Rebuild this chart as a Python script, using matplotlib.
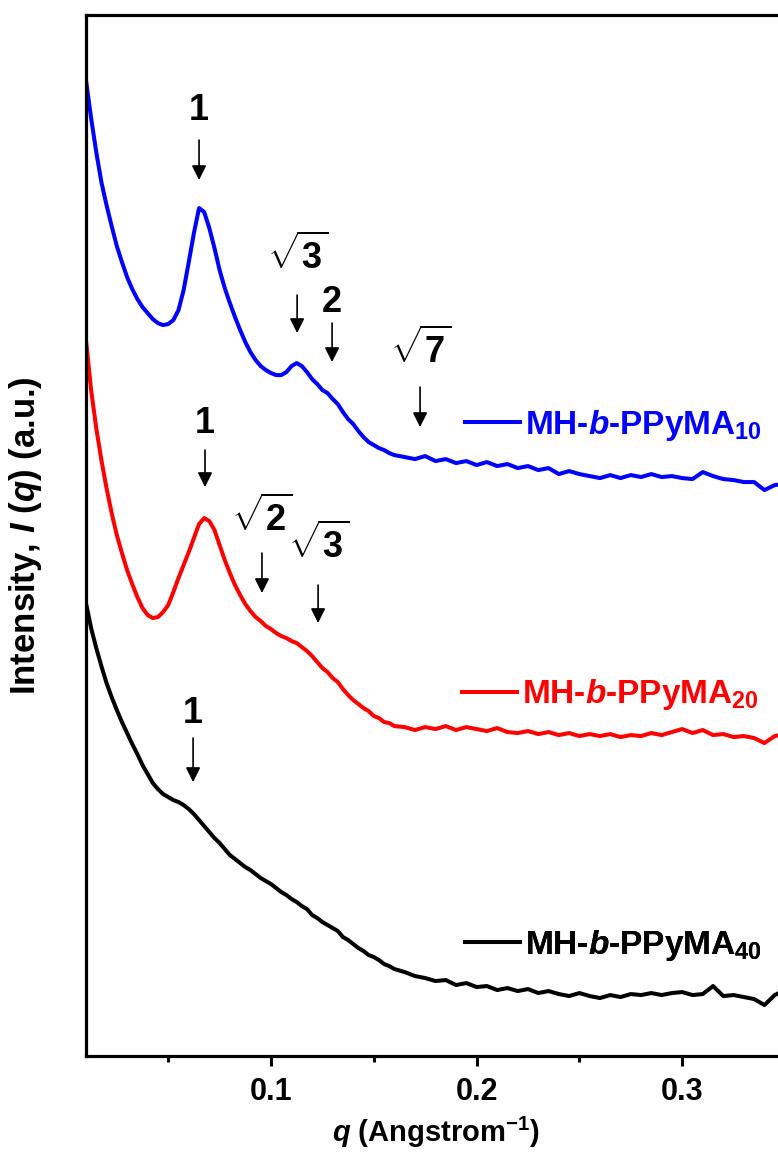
import numpy as np
import matplotlib
matplotlib.use('Agg')
import matplotlib.pyplot as plt
from matplotlib.lines import Line2D

plt.rcParams['font.family'] = ['Liberation Sans', 'DejaVu Sans']
plt.rcParams['font.weight'] = 'bold'
plt.rcParams['mathtext.fontset'] = 'custom'
plt.rcParams['mathtext.rm'] = 'Liberation Sans:bold'
plt.rcParams['mathtext.it'] = 'Liberation Sans:bold:italic'
plt.rcParams['mathtext.bf'] = 'Liberation Sans:bold'

# q grid (1/Angstrom)
q = [0.0100, 0.0125, 0.0150, 0.0175, 0.0200, 0.0225, 0.0250, 0.0275, 0.0300, 0.0325,
     0.0350, 0.0375, 0.0400, 0.0425, 0.0450, 0.0475, 0.0500, 0.0525, 0.0550, 0.0575,
     0.0600, 0.0625, 0.0650, 0.0675, 0.0700, 0.0725, 0.0750, 0.0775, 0.0800, 0.0825,
     0.0850, 0.0875, 0.0900, 0.0925, 0.0950, 0.0975, 0.1000, 0.1025, 0.1050, 0.1075,
     0.1100, 0.1125, 0.1150, 0.1175, 0.1200, 0.1225, 0.1250, 0.1275, 0.1300, 0.1325,
     0.1350, 0.1375, 0.1400, 0.1425, 0.1450, 0.1475, 0.1500, 0.1525, 0.1550, 0.1575,
     0.1600, 0.165, 0.170, 0.175, 0.180, 0.185, 0.190, 0.195, 0.200, 0.205,
     0.210, 0.215, 0.220, 0.225, 0.230, 0.235, 0.240, 0.245, 0.250, 0.255,
     0.260, 0.265, 0.270, 0.275, 0.280, 0.285, 0.290, 0.295, 0.300, 0.305,
     0.310, 0.315, 0.320, 0.325, 0.330, 0.335, 0.340, 0.345, 0.350]

# shifted intensities (a.u.)
I_10 = [976, 938, 904, 874, 851, 830, 810, 794, 779, 767,
        757, 749, 743, 737, 733, 731, 732, 736, 746, 766,
        794, 823, 848, 844, 828, 808, 786, 768, 753, 739,
        726, 714, 704, 696, 690, 686, 683, 681, 681, 684,
        690, 693, 690, 684, 677, 672, 666, 663, 657, 652,
        644, 637, 632, 625, 619, 614, 611, 608, 606, 603,
        601, 599, 597, 600, 595, 597, 593, 595, 591, 594,
        590, 592, 588, 590, 586, 588, 582, 585, 582, 580,
        578, 581, 578, 581, 579, 582, 579, 580, 578, 577,
        584, 580, 577, 576, 574, 574, 566, 571, 572]

I_20 = [716, 666, 628, 596, 568, 543, 521, 503, 486, 472,
        459, 448, 441, 438, 439, 444, 451, 464, 478, 491,
        504, 518, 532, 538, 535, 526, 511, 496, 483, 471,
        461, 452, 445, 439, 435, 430, 427, 423, 420, 418,
        415, 413, 409, 405, 400, 394, 388, 384, 378, 374,
        367, 361, 356, 352, 348, 345, 340, 338, 334, 333,
        330, 329, 326, 329, 327, 330, 326, 329, 327, 325,
        328, 324, 323, 325, 322, 324, 321, 323, 320, 322,
        320, 322, 319, 321, 320, 323, 321, 324, 327, 323,
        326, 321, 322, 319, 320, 318, 313, 320, 322]

I_40 = [453, 428, 408, 390, 373, 359, 346, 334, 323, 312,
        302, 291, 282, 273, 267, 262, 259, 256, 254, 251,
        247, 242, 236, 230, 224, 218, 213, 207, 201, 197,
        193, 189, 186, 182, 178, 175, 172, 168, 164, 161,
        157, 154, 150, 147, 141, 138, 134, 131, 128, 125,
        119, 116, 112, 108, 105, 101, 99, 96, 92, 90,
        87, 84, 80, 78, 75, 76, 71, 73, 69, 70,
        66, 68, 65, 67, 63, 65, 62, 60, 63, 60,
        58, 61, 59, 62, 61, 63, 61, 63, 64, 61,
        62, 70, 60, 61, 59, 57, 51, 61, 66]

series = [(I_10, 'blue', r'MH-$\it{b}$-PPyMA$_{10}$'),
          (I_20, 'red', r'MH-$\it{b}$-PPyMA$_{20}$'),
          (I_40, 'black', r'MH-$\it{b}$-PPyMA$_{40}$')]

# peak markers: label, q position, label height, arrow top, arrow bottom
peaks = [('1', 0.0650, 946, 916, 876),
         (r'$\sqrt{3}$', 0.1127, 800, 761, 723),
         ('2', 0.1297, 754, 733, 694),
         (r'$\sqrt{7}$', 0.1725, 706, 669, 629),
         ('1', 0.0679, 633, 606, 569),
         (r'$\sqrt{2}$', 0.0956, 538, 503, 463),
         (r'$\sqrt{3}$', 0.1229, 511, 471, 433),
         ('1', 0.0621, 343, 318, 274)]

fig = plt.figure(figsize=(7.78, 11.61), dpi=100)
ax = fig.add_axes([0.1105, 0.0904, 0.8985, 0.8966])

for I, c, lab in series:
    ax.plot(q, I, color=c, lw=2.9, solid_joinstyle='round')

for lab, x, ylab, ytop, ybot in peaks:
    ax.text(x, ylab, lab, ha='center', va='center', fontsize=26, fontweight='bold')
    ax.annotate('', xy=(x, ybot), xytext=(x, ytop),
                arrowprops=dict(arrowstyle='-|>,head_length=0.4,head_width=0.2',
                                color='black', lw=1.2, mutation_scale=22,
                                shrinkA=0, shrinkB=0))

# legend entries placed next to each curve
leg_pos = [(0.542, 0.606), (0.538, 0.347), (0.542, 0.1066)]
for (I, c, lab), pos in zip(series, leg_pos):
    h = Line2D([], [], color=c, lw=2.9)
    leg = ax.legend([h], [lab], loc='center left', bbox_to_anchor=pos,
                    frameon=False, borderpad=0, borderaxespad=0,
                    handlelength=1.65, handletextpad=0.15,
                    labelcolor=c, prop={'size': 24, 'weight': 'bold'})
    ax.add_artist(leg)

ax.set_xlim(0.01, 0.35)
ax.set_ylim(0, 1041)
ax.set_xticks([0.1, 0.2, 0.3])
ax.set_xticklabels(['0.1', '0.2', '0.3'])
ax.set_xticks([0.05, 0.15, 0.25, 0.35], minor=True)
ax.set_yticks([])
ax.tick_params(axis='x', which='major', direction='out', length=7, width=2.2,
               labelsize=22, pad=8)
ax.tick_params(axis='x', which='minor', direction='out', length=4, width=2.2)
for s in ax.spines.values():
    s.set_linewidth(2.3)

ax.set_xlabel(r'$q$ (Angstrom$^{-1}$)', fontsize=21, fontweight='bold', labelpad=6)
ax.set_ylabel(r'Intensity, $I$ ($q$) (a.u.)', fontsize=25, fontweight='bold', labelpad=30)

fig.savefig('out.png', dpi=100)
